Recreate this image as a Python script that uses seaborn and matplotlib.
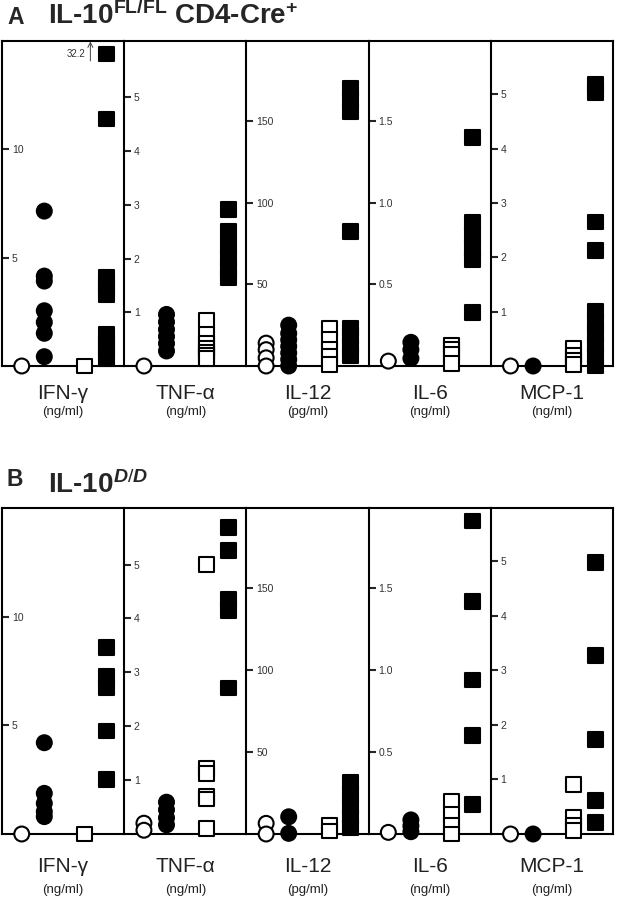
import pandas as pd
import seaborn as sns
import matplotlib.pyplot as plt
import matplotlib.transforms as mtransforms

# --- data -------------------------------------------------------------
cytokines = ['IFN-γ', 'TNF-α', 'IL-12', 'IL-6', 'MCP-1']
units = ['(ng/ml)', '(ng/ml)', '(pg/ml)', '(ng/ml)', '(ng/ml)']
y_ticks = [[5, 10], [1, 2, 3, 4, 5], [50, 100, 150], [0.5, 1.0, 1.5], [1, 2, 3, 4, 5]]
y_tick_labels = [['5', '10'], ['1', '2', '3', '4', '5'], ['50', '100', '150'],
                 ['0.5', '1.0', '1.5'], ['1', '2', '3', '4', '5']]
y_max = [15, 6.05, 199, 1.99, 5.98]

# groups: open circle, filled circle, open square, filled square
groups = [('open', 'circle'), ('filled', 'circle'), ('open', 'square'), ('filled', 'square')]

# A: IL-10 FL/FL CD4-Cre+
a_ifng = [[0], [7.15, 4.15, 3.92, 2.55, 2.02, 1.51, 0.43], [0],
          [32.2, 11.4, 4.09, 3.7, 3.32, 1.46, 1.1, 0.75, 0.36]]
a_tnfa = [[0], [0.96, 0.82, 0.68, 0.55, 0.42, 0.28],
          [0.85, 0.58, 0.42, 0.32, 0.26, 0.2, 0.14], [2.92, 2.5, 2.25, 2.0, 1.8, 1.64]]
a_il12 = [[14, 10, 5, 0], [25, 20, 16, 12, 8, 4, 0], [22.7, 16, 10, 6, 1],
          [170, 163, 156, 82.6, 23, 18, 12, 6.7]]
a_il6 = [[0.03], [0.145, 0.1, 0.047], [0.125, 0.1, 0.07, 0.017],
         [1.4, 0.88, 0.8, 0.72, 0.65, 0.33]]
a_mcp1 = [[0], [0], [0.33, 0.2, 0.1, 0.02],
          [5.18, 5.03, 2.65, 2.12, 1.0, 0.8, 0.6, 0.4, 0.2, 0.0]]

# B: IL-10 D/D
b_ifng = [[0], [4.2, 1.87, 1.41, 1.03, 0.8], [0], [8.57, 7.24, 6.73, 4.74, 2.49]]
b_tnfa = [[0.2, 0.07], [0.59, 0.45, 0.3, 0.17], [5.0, 1.22, 1.12, 0.69, 0.65, 0.11],
          [5.68, 5.26, 4.35, 4.15, 2.71]]
b_il12 = [[6.5, 0], [10.5, 0.4], [5.1, 1.8], [31.5, 24, 17, 10, 3.8]]
b_il6 = [[0.01], [0.086, 0.05, 0.014], [0.2, 0.12, 0.05, 0.0], [1.98, 1.42, 0.94, 0.6, 0.18]]
b_mcp1 = [[0], [0], [0.9, 0.3, 0.15, 0.07], [4.98, 3.28, 1.74, 0.62, 0.21]]

panel_a = [a_ifng, a_tnfa, a_il12, a_il6, a_mcp1]
panel_b = [b_ifng, b_tnfa, b_il12, b_il6, b_mcp1]

# --- style ------------------------------------------------------------
sns.set_style('white')
plt.rcParams['font.family'] = ['Liberation Sans', 'DejaVu Sans']
plt.rcParams['mathtext.fontset'] = 'custom'
plt.rcParams['mathtext.rm'] = 'Liberation Sans'
plt.rcParams['mathtext.bf'] = 'Liberation Sans:bold'
plt.rcParams['mathtext.it'] = 'Liberation Sans:bold:italic'

W, H = 620, 899
fig = plt.figure(figsize=(W / 100, H / 100), dpi=100)

group_x = [1.05, 2.25, 4.4, 5.55]
x_left, x_right = 2, 613
panel_w = (x_right - x_left) / 5
offscale_frac = 0.96


def to_frame(values, top):
    rows = []
    for (fill, shape), gx, vals in zip(groups, group_x, values):
        for v in vals:
            rows.append({'x': gx, 'value': v, 'shown': min(v, top * offscale_frac),
                         'fill': fill, 'shape': shape})
    return pd.DataFrame(rows)


def draw_panel(data, top_px, bottom_px, name_off, unit_off):
    for i, values in enumerate(data):
        ax = fig.add_axes([(x_left + i * panel_w) / W, 1 - bottom_px / H,
                           panel_w / W, (bottom_px - top_px) / H])
        df = to_frame(values, y_max[i])
        sns.scatterplot(data=df, x='x', y='shown', hue='fill', style='shape',
                        palette={'open': 'white', 'filled': 'black'},
                        markers={'circle': 'o', 'square': 's'},
                        s=115, edgecolor='black', linewidth=1.5,
                        legend=False, clip_on=False, zorder=3, ax=ax)
        ax.set_xlim(0, 6.5)
        ax.set_ylim(0, y_max[i])
        ax.set_xticks([])
        ax.set_xlabel('')
        ax.set_ylabel('')
        ax.set_yticks(y_ticks[i])
        ax.set_yticklabels(y_tick_labels[i], ha='left')
        ax.tick_params(axis='y', direction='in', length=5, width=1.5, pad=-7,
                       labelsize=7.5, labelcolor='#333', left=True)
        for sp in ax.spines.values():
            sp.set_linewidth(1.5)
            sp.set_color('black')
        if i < len(data) - 1:
            ax.spines['right'].set_visible(False)

        # off-scale values: arrow + real value
        off = df[df['value'] > y_max[i]]
        for _, r in off.iterrows():
            head = mtransforms.offset_copy(ax.transData, fig=fig, x=-11.5, y=9, units='points')
            tail = mtransforms.offset_copy(ax.transData, fig=fig, x=-11.5, y=-5, units='points')
            ax.annotate('', xy=(r['x'], r['shown']), xycoords=head,
                        xytext=(r['x'], r['shown']), textcoords=tail,
                        arrowprops=dict(arrowstyle='->,head_length=0.35,head_width=0.18',
                                        lw=0.7, color='#444', shrinkA=0, shrinkB=0),
                        annotation_clip=False)
            ax.annotate(f"{r['value']:g}", xy=(r['x'], r['shown']),
                        xytext=(-15, 0), textcoords='offset points',
                        ha='right', va='center', fontsize=7, color='#333')

        ax.annotate(cytokines[i], xy=(0.5, 0), xycoords='axes fraction',
                    xytext=(0, -name_off), textcoords='offset points',
                    ha='center', va='center', fontsize=15, color='#222')
        ax.annotate(units[i], xy=(0.5, 0), xycoords='axes fraction',
                    xytext=(0, -unit_off), textcoords='offset points',
                    ha='center', va='center', fontsize=9.5, color='#222')


draw_panel(panel_a, 41, 366, 19.5, 33)
draw_panel(panel_b, 508, 834, 23.5, 40)

# panel titles
fig.text(7 / W, 1 - 24.5 / H, 'A', fontsize=16.5, fontweight='bold', va='baseline')
fig.text(48 / W, 1 - 24.5 / H, r'IL-10$^{\mathbf{FL/FL}}$ CD4-Cre$^{\mathbf{+}}$',
         fontsize=20, fontweight='bold', va='baseline')
fig.text(7 / W, 1 - 486 / H, 'B', fontsize=16.5, fontweight='bold', va='baseline')
fig.text(48 / W, 1 - 493 / H, r'IL-10$^{\mathit{D/D}}$',
         fontsize=20, fontweight='bold', va='baseline')

fig.savefig('out.png', dpi=100)
